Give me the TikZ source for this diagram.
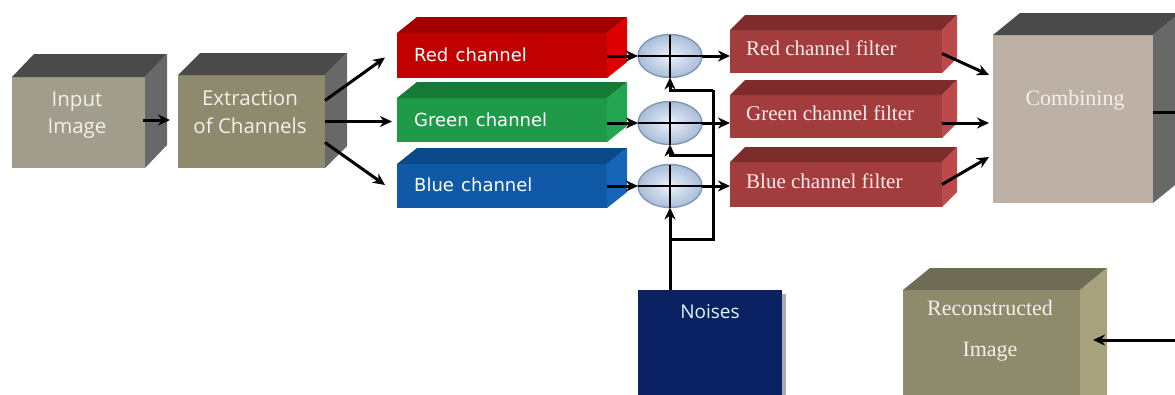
\documentclass[tikz,border=0pt]{standalone}
\usepackage{fontspec}
\setmainfont{Liberation Serif}
\newfontfamily\osans{Open Sans}
\newfontfamily\dvs{DejaVu Sans}
\usetikzlibrary{calc,shapes.geometric,arrows.meta}
\definecolor{inpF}{HTML}{A09D8C}
\definecolor{extF}{HTML}{8E8A6E}
\definecolor{gTop}{HTML}{4A4A4A}
\definecolor{gSide}{HTML}{686868}
\definecolor{redF}{HTML}{C20000}
\definecolor{redT}{HTML}{A00000}
\definecolor{redS}{HTML}{DE0000}
\definecolor{grnF}{HTML}{1F9A48}
\definecolor{grnT}{HTML}{147A36}
\definecolor{grnS}{HTML}{22A650}
\definecolor{bluF}{HTML}{1059A6}
\definecolor{bluT}{HTML}{0B4A8A}
\definecolor{bluS}{HTML}{1565B8}
\definecolor{filF}{HTML}{A33D3D}
\definecolor{filT}{HTML}{7E2B2B}
\definecolor{filS}{HTML}{BC4A4A}
\definecolor{comF}{HTML}{BDB0A6}
\definecolor{recF}{HTML}{8E8B6D}
\definecolor{recT}{HTML}{6E6B57}
\definecolor{recS}{HTML}{A8A27F}
\definecolor{nzF}{HTML}{0A2163}
\definecolor{addI}{HTML}{EAF1FA}
\definecolor{addO}{HTML}{A9BDD8}
\definecolor{addB}{HTML}{7F96B4}
\definecolor{txtL}{HTML}{F2F0E8}
\newcommand{\extrude}[5]{%
  \fill[#4] (#1.north west) -- ++(#2,-#3) -- ($(#1.north east)+(#2,-#3)$) -- (#1.north east) -- cycle;
  \fill[#5] (#1.north east) -- ++(#2,-#3) -- ($(#1.south east)+(#2,-#3)$) -- (#1.south east) -- cycle;}
\begin{document}
\begin{tikzpicture}[x=1pt,y=-1pt,
  face/.style={anchor=north west, inner sep=0pt, outer sep=0pt, draw=none},
  arr/.style={line width=3pt, -{Stealth[length=12pt,width=11pt]}},
  ln/.style={line width=3pt},
  adder/.style={ellipse, minimum width=64pt, minimum height=43pt, inner sep=0pt, outer sep=0pt, draw=addB, line width=1.4pt, inner color=addI, outer color=addO},
  cross/.style={line width=1.1pt, black},
  sanstxt/.style={inner sep=0pt, text=txtL, font=\osans\fontsize{20.5}{24}\selectfont},
  chtxt/.style={inner sep=0pt, anchor=west, text=white, font=\dvs\fontsize{18}{21}\selectfont},
  filtxt/.style={inner sep=0pt, anchor=west, text=white!92!red, font=\fontsize{21}{25}\selectfont},
  sertxt/.style={inner sep=0pt, text=txtL, font=\fontsize{22}{26}\selectfont}]
\clip (0,0) rectangle (1175,394);
\fill[white] (0,0) rectangle (1175,394);
% Input image
\node[face, fill=inpF, minimum width=133pt, minimum height=91pt] (inp) at (12,77) {};
\extrude{inp}{22}{23}{gTop}{gSide}
\node[sanstxt, anchor=base] (inpT1) at (77,106) {Input};
\node[sanstxt, anchor=base] (inpT2) at (77,133) {Image};
% Extraction
\node[face, fill=extF, minimum width=147pt, minimum height=93pt] (ext) at (178,75) {};
\extrude{ext}{22}{22}{gTop}{gSide}
\node[sanstxt, anchor=base] (extT1) at (250,105) {Extraction};
\node[sanstxt, anchor=base] (extT2) at (250,133) {of Channels};
% Channels
\node[face, fill=redF, minimum width=210pt, minimum height=45pt] (red) at (397,33) {};
\extrude{red}{20}{16}{redT}{redS}
\node[face, fill=grnF, minimum width=210pt, minimum height=44pt] (grn) at (397,98) {};
\extrude{grn}{20}{16}{grnT}{grnS}
\node[face, fill=bluF, minimum width=210pt, minimum height=44pt] (blu) at (397,164) {};
\extrude{blu}{20}{16}{bluT}{bluS}
\node[chtxt] (redL) at (414,55) {Red\hspace{0.4em}channel};
\node[chtxt] (grnL) at (414,120) {Green\hspace{0.4em}channel};
\node[chtxt] (bluL) at (414,185) {Blue\hspace{0.4em}channel};
% Filters
\node[face, fill=filF, minimum width=212pt, minimum height=43pt] (f1) at (730,30) {};
\extrude{f1}{15}{15}{filT}{filS}
\node[face, fill=filF, minimum width=212pt, minimum height=43pt] (f2) at (730,95) {};
\extrude{f2}{15}{15}{filT}{filS}
\node[face, fill=filF, minimum width=212pt, minimum height=45pt] (f3) at (730,162) {};
\extrude{f3}{15}{15}{filT}{filS}
\node[filtxt] (f1L) at (746,48) {Red channel filter};
\node[filtxt] (f2L) at (746,113) {Green channel filter};
\node[filtxt] (f3L) at (746,181) {Blue channel filter};
% Combining
\node[face, fill=comF, minimum width=160pt, minimum height=168pt] (com) at (993,35) {};
\extrude{com}{27}{22}{gTop}{gSide}
\node[sertxt] (comL) at (1075,100) {Combining};
% Reconstructed
\node[face, fill=recF, minimum width=177pt, minimum height=140pt] (rec) at (903,290) {};
\extrude{rec}{27}{22}{recT}{recS}
\node[sertxt] (recL1) at (990,308) {Reconstructed};
\node[sertxt] (recL2) at (990,352) {Image};
% Noises
\fill[gray!65] (642,294) rectangle (786,400);
\node[face, fill=nzF, minimum width=144pt, minimum height=120pt] (nz) at (638,290) {};
\node[sanstxt, text=white!88!cyan, font=\osans\fontsize{19}{23}\selectfont] (nzL) at (710,312) {Noises};
% Adders
\node[adder] (a1) at (670,56) {};
\node[adder] (a2) at (670,123) {};
\node[adder] (a3) at (670,186) {};
\foreach \a in {a1,a2,a3}{
  \draw[cross] (\a.north) -- (\a.south);
  \draw[cross] (\a.west) -- (\a.east);}
% Connectors
\draw[arr] ([xshift=-2pt]inp.east |- 0,120) -- ([xshift=-8pt]ext.west |- 0,120);
\draw[arr] ([yshift=21pt]ext.east) -- ([xshift=-12pt,yshift=-2pt]red.west);
\draw[arr] (ext.east) -- ([xshift=-5pt]grn.west |- ext.east);
\draw[arr] ([yshift=-21pt]ext.east) -- ([xshift=-12pt,yshift=1pt]blu.west);
\draw[arr] (red.east |- a1.west) -- (a1.west);
\draw[arr] (grn.east |- a2.west) -- (a2.west);
\draw[arr] (blu.east |- a3.west) -- (a3.west);
\draw[arr] (a1.east) -- (a1.east -| f1.west);
\draw[arr] (a2.east) -- (a2.east -| f2.west);
\draw[arr] (a3.east) -- (a3.east -| f3.west);
% noise distribution
\coordinate (j1) at (713,90);
\coordinate (j2) at (713,155);
\coordinate (j3) at (713,239);
\draw[arr] (nz.north -| a3.south) -- (a3.south);
\draw[ln] (a3.south |- j3) -- (j3) -- (j1);
\draw[arr] (j1) -- (j1 -| a1.south) -- (a1.south);
\draw[arr] (j2) -- (j2 -| a2.south) -- (a2.south);
% filters to combining
\draw[arr] ([yshift=-2pt]f1.east) -- ([xshift=-4pt,yshift=44pt]com.west);
\draw[arr] (f2.east |- 0,123) -- ([xshift=-4pt]com.west |- 0,123);
\draw[arr] (f3.east) -- ([xshift=-4pt,yshift=-38pt]com.west);
% combining out / reconstructed in
\coordinate (e1) at (1180,112);
\coordinate (e2) at (1180,340);
\draw[ln] (com.east |- e1) -- (e1);
\coordinate (rtip) at ([xshift=13pt]rec.east);
\draw[arr] (e2) -- (rtip |- e2);
\end{tikzpicture}
\end{document}
